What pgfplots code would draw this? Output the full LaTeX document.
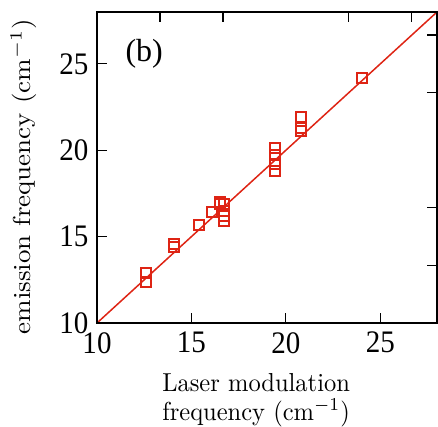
\documentclass[border=0pt]{standalone}
\usepackage{fontspec}
\usepackage{pgfplots}
\pgfplotsset{compat=1.18}
\newfontfamily\tickfont{Liberation Serif}
\definecolor{fitred}{RGB}{222,36,20}

\begin{document}
\begin{tikzpicture}
\begin{axis}[
    name=main,
    scale only axis,
    width=340pt, height=311pt,
    xmin=10, xmax=28, ymin=10, ymax=28,
    xtick={10,15,20,25}, ytick={10,15,20,25},
    xtick pos=bottom, ytick pos=left,
    tick align=inside,
    major tick length=10pt,
    axis line style={line width=1.3pt},
    every tick/.style={line width=1.2pt, black},
    /pgf/number format/assume math mode=true,
    tick label style={font=\tickfont\fontsize{29}{30}\selectfont, yscale=1.08},
    xticklabel style={yshift=-5pt},
    yticklabel style={xshift=-5pt},
    xlabel={Laser modulation\\frequency (cm$^{-1}$)},
    xlabel style={font=\fontsize{10}{11.2}\selectfont, align=center, xscale=2.45, yscale=2.6,
        at={(axis description cs:0.468,-0.247)}, anchor=center},
    ylabel={emission frequency (cm$^{-1}$)},
    ylabel style={font=\fontsize{10}{11}\selectfont, xscale=2.7, yscale=2.45,
        at={(axis description cs:-0.216,0.47)}, anchor=center},
]
\addplot[fitred, line width=1.5pt] coordinates {(10,10) (28,28)};
\addplot[only marks, mark=square, mark size=5pt, fitred,
         mark options={line width=2pt}] coordinates {
(12.6,12.4) (12.6,12.9)
(14.1,14.4) (14.1,14.6)
(15.4,15.7)
(16.1,16.4)
(16.5,16.9) (16.5,17.0)
(16.7,16.9) (16.7,16.5) (16.7,16.2) (16.7,15.9)
(19.4,20.1) (19.4,19.7) (19.4,19.2) (19.4,18.8)
(20.8,21.9) (20.8,21.3) (20.8,21.1)
(24.05,24.2)
};
\node[anchor=center, font=\tickfont\fontsize{32}{34}\selectfont] at (axis cs:12.5,25.6) {(b)};
\end{axis}
\begin{axis}[
    at={(main.south west)}, anchor=south west,
    scale only axis,
    width=340pt, height=311pt,
    xmin=10, xmax=28, ymin=10, ymax=28,
    xtick={13.333,16.667,23.333,26.667}, ytick={13.333,16.667,23.333,26.667},
    xtick pos=top, ytick pos=right,
    xticklabels={}, yticklabels={},
    tick align=inside,
    major tick length=10pt,
    axis line style={line width=1.3pt},
    every tick/.style={line width=1.2pt, black},
]
\end{axis}
\pgfresetboundingbox
\path[use as bounding box] ([xshift=-97pt,yshift=-104pt]main.south west) rectangle ([xshift=1pt,yshift=12pt]main.north east);
\end{tikzpicture}
\end{document}
